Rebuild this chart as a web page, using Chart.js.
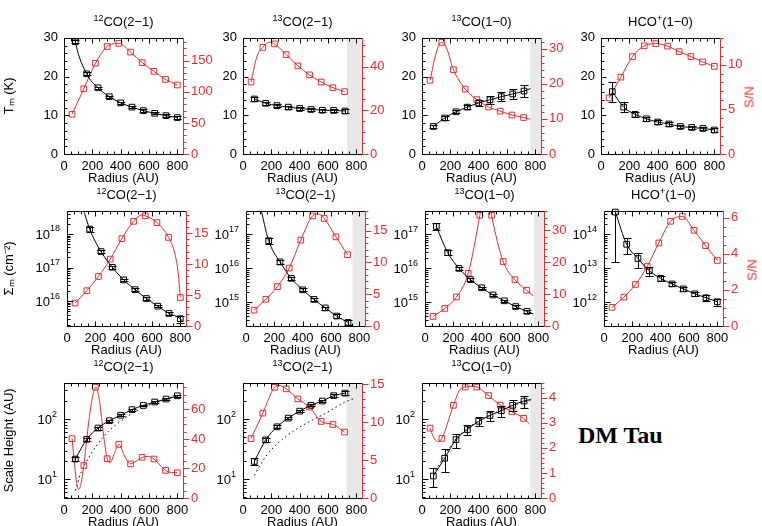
<!DOCTYPE html>
<html>
<head>
<meta charset="utf-8">
<script src="https://cdn.jsdelivr.net/npm/chart.js@4.4.1/dist/chart.umd.min.js"></script>
<style>
  body { margin: 0; background: #fff; width: 762px; height: 526px; position: relative; overflow: hidden;
         font-family: "Liberation Sans", Arial, sans-serif; }
  canvas { position: absolute; }
  .ttl { position: absolute; width: 160px; text-align: center; font-size: 13px; line-height: 16px; color: #000; }
  .ttl sup { font-size: 9px; vertical-align: 5px; line-height: 0; }
  .sn { position: absolute; font-size: 13px; color: rgb(232,44,44); transform: translate(-50%, -50%) rotate(-90deg); white-space: nowrap; }
  .dm { position: absolute; left: 578px; top: 422px; font: bold 24px "Liberation Serif", "Times New Roman", serif; }
</style>
</head>
<body>
<div class="dm">DM Tau</div>
<script>
// radii of the annuli (AU)
const radiusBlack = [80, 160, 240, 320, 400, 480, 560, 640, 720, 800];
const radiusRed = [57, 140, 222, 305, 387, 470, 552, 635, 717, 800];

// row 1 : temperature Tm (K)
const tm12co21 = [29.0, 20.7, 17.1, 14.8, 13.2, 12.1, 11.2, 10.5, 9.9, 9.4];
const tm12co21Err = [0.4, 0.4, 0.3, 0.3, 0.3, 0.3, 0.3, 0.3, 0.3, 0.3];
const sn12co21Tm = [64, 105, 146, 173, 178, 164, 147, 133, 120, 111];

const tm13co21 = [14.2, 13.1, 12.5, 12.1, 11.75, 11.5, 11.3, 11.25, 11.1];
const tm13co21Err = [0.4, 0.4, 0.4, 0.4, 0.4, 0.4, 0.4, 0.4, 0.4];
const sn13co21Tm = [[57, 33], [100, 45], [140, 48.9], [190, 51.3], [222, 50.5], [305, 45.6], [387, 40.4], [470, 36.3], [552, 33.0], [635, 30.4], [717, 28.6]];

const tm13co10 = [7.1, 9.3, 10.9, 12.1, 13.2, 14.0, 14.8, 15.5, 16.25];
const tm13co10Err = [0.4, 0.4, 0.4, 0.6, 0.8, 1.0, 1.2, 1.4, 1.5];
const sn13co10Tm = [[57, 21], [100, 28.8], [135, 31.8], [170, 30.5], [222, 24], [305, 18.5], [387, 15.5], [470, 13.4], [552, 12.2], [635, 11.1], [717, 10.4], [765, 9.9]];

const tmHco = [16.1, 12.1, 10.25, 9.1, 8.25, 7.75, 7.1, 6.85, 6.6, 6.2];
const tmHcoErr = [2.6, 1.3, 0.7, 0.5, 0.4, 0.4, 0.4, 0.4, 0.4, 0.4];
const snHcoTm = [6.27, 8.6, 10.9, 12.1, 12.35, 12.07, 11.45, 10.9, 10.3, 9.8];

// row 2 : surface density (cm^-2)
const sig12co21 = [1.4e18, 3.0e17, 1.02e17, 4.3e16, 2.2e16, 1.2e16, 7.1e15, 4.3e15, 3.0e15];
const sig12co21Err = [2.2e17, 3.5e16, 1.0e16, 4e15, 2e15, 1e15, 6e14, 4e14, 7e14];
const sn12co21Sig = [[57, 3.7], [140, 5.7], [222, 8.0], [305, 10.8], [387, 14.1], [470, 16.9], [530, 17.9], [552, 17.8], [635, 16.7], [717, 14.3], [760, 11.8], [785, 8.5], [800, 4.6]];

const sig13co21 = [6.5e16, 1.55e16, 5.1e15, 2.35e15, 1.23e15, 6.9e14, 4.0e14, 2.6e14];
const sig13co21Err = [1.2e16, 2e15, 6e14, 2.5e14, 1.2e14, 7e13, 5e13, 4e13];
const sn13co21Sig = [[57, 2.5], [140, 4.2], [222, 6.2], [305, 9.1], [387, 13.5], [470, 17.3], [510, 17.6], [552, 16.9], [635, 14.0], [717, 11.2]];

const sig13co10 = [1.7e17, 2.9e16, 1.0e16, 4.7e15, 2.7e15, 1.66e15, 1.12e15, 7.6e14, 5.5e14];
const sig13co10Err = [4e16, 5e15, 1.2e15, 4e14, 2e14, 1.2e14, 8e13, 6e13, 5e13];
const sn13co10Sig = [[57, 3.0], [140, 5.5], [222, 9.1], [305, 16.5], [387, 34.7], [428, 46], [470, 34.7], [552, 20.2], [635, 14.5], [717, 11.2], [765, 9.4]];

const sigHco = [4.5e14, 5.1e13, 1.95e13, 8.5e12, 5.1e12, 3.5e12, 2.5e12, 1.8e12, 1.38e12, 1.05e12];
const sigHcoErr = [4.35e14, 2.5e13, 9e12, 2.7e12, 8e11, 4e11, 3e11, 2.5e11, 2.5e11, 2.5e11];
const snHcoSig = [1.03, 1.6, 2.3, 3.3, 4.6, 5.8, 6.07, 5.3, 4.45, 3.63];

// row 3 : scale height (AU), dotted = model
const h12co21 = [21.6, 46, 71, 94, 116, 144, 169, 193, 216, 245];
const h12co21Err = [1.5, 3, 4, 4, 5, 6, 6, 7, 7, 8];
const model12co21 = [[80, 6.5], [120, 13], [160, 20], [240, 39], [320, 65], [400, 92], [480, 124], [560, 156], [640, 186], [720, 210], [800, 245]];
const sn12co21H = [40.2, 22, 75, 26.6, 36.3, 23.1, 27.5, 26.4, 18.7, 17.1];
const sn12co21HCurve = [[57, 40.2], [75, 22], [90, 10], [104, 5.7], [120, 10], [140, 22], [170, 48], [200, 68], [225, 75], [250, 66], [280, 42], [305, 26.6], [325, 23.8], [355, 30], [387, 36.3], [430, 28], [470, 23.1], [510, 25], [552, 27.5], [595, 28.2], [635, 26.4], [680, 22], [717, 18.7], [760, 17.2], [800, 17.1]];

const h13co21 = [19.7, 45, 74.5, 104, 136, 170, 200, 246, 271];
const h13co21Err = [2.5, 3, 4, 5, 6, 7, 8, 12, 18];
const model13co21 = [[80, 11.6], [160, 23.7], [240, 38.7], [320, 55], [400, 73.5], [480, 94], [560, 117], [640, 150], [720, 192], [790, 223]];
const sn13co21H = [[57, 7.84], [140, 11.2], [222, 14.6], [255, 14.85], [305, 14.4], [387, 13.07], [470, 12.0], [552, 10.1], [635, 9.7], [717, 8.7]];

const h13co10 = [11.3, 22.3, 45.5, 67, 92, 115, 138, 170, 200];
const h13co10Err = [4, 9, 12, 12, 15, 22, 28, 35, 45];
const model13co10 = [[80, 12], [160, 25], [240, 47], [320, 70], [400, 93], [480, 117], [560, 142], [640, 168], [720, 193], [770, 210]];
const sn13co10H = [[57, 2.79], [80, 2.45], [110, 2.25], [140, 2.38], [222, 3.70], [270, 4.35], [305, 4.43], [345, 4.46], [387, 4.43], [470, 4.09], [552, 3.71], [635, 3.44], [717, 3.18], [760, 2.95]];

const RED = 'rgb(232,44,44)';
const colLeft = [64, 243, 422, 601];
const rowTop = [34, 207, 379];
const rowShift = [0, 3, 0];
const rowH = [120, 119, 119];
const PW = 119;

Chart.defaults.font.family = '"Liberation Sans", Arial, sans-serif';
Chart.defaults.font.size = 13;

function pairs(list) { return list.map(p => ({ x: p[0], y: p[1] })); }
function zip(xs, ys) { return ys.map((y, i) => ({ x: xs[i], y: y })); }
const n9 = radiusBlack.slice(0, 9), r9 = radiusRed.slice(0, 9);

const panels = [
  { row: 0, col: 0, title: '<sup>12</sup>CO(2−1)', yTitle: 'Tₘ (K)',
    left: { min: 0, max: 30, ticks: [0, 10, 20, 30], minor: 2 }, right: { max: 187, ticks: [0, 50, 100, 150], minor: 10 },
    bx: radiusBlack, by: tm12co21, be: tm12co21Err, lead: [[68, 32]], red: zip(radiusRed, sn12co21Tm) },
  { row: 0, col: 1, title: '<sup>13</sup>CO(2−1)', gray: 735,
    left: { min: 0, max: 30, ticks: [0, 10, 20, 30], minor: 2 }, right: { max: 53.3, ticks: [0, 20, 40], minor: 5 },
    bx: n9, by: tm13co21, be: tm13co21Err, redPts: zip(r9, sn13co21Tm.filter((p, i) => i !== 1 && i !== 3).map(p => p[1])), red: pairs(sn13co21Tm) },
  { row: 0, col: 2, title: '<sup>13</sup>CO(1−0)', gray: 765,
    left: { min: 0, max: 30, ticks: [0, 10, 20, 30], minor: 2 }, right: { max: 33.1, ticks: [0, 10, 20, 30], minor: 2 },
    bx: n9, by: tm13co10, be: tm13co10Err, tail: [[765, 16.9]],
    redPts: zip(r9, sn13co10Tm.filter((p, i) => [0, 2, 4, 5, 6, 7, 8, 9, 10].includes(i)).map(p => p[1])), red: pairs(sn13co10Tm) },
  { row: 0, col: 3, title: 'HCO<sup>+</sup>(1−0)', sn: true,
    left: { min: 0, max: 30, ticks: [0, 10, 20, 30], minor: 2 }, right: { max: 13, ticks: [0, 5, 10], minor: 1 },
    bx: radiusBlack, by: tmHco, be: tmHcoErr, red: zip(radiusRed, snHcoTm) },

  { row: 1, col: 0, title: '<sup>12</sup>CO(2−1)', yTitle: 'Σₘ (cm⁻²)',
    left: { log: true, min: 1.82e15, max: 4.9e18 }, right: { max: 18.6, ticks: [0, 5, 10, 15], minor: 1 },
    bx: radiusBlack.slice(1), by: sig12co21, be: sig12co21Err, lead: [[112, 6e18]], tail: [[815, 2.5e15]],
    redPts: zip(radiusRed, sn12co21Sig.filter((p, i) => [0, 1, 2, 3, 4, 5, 7, 8, 9, 12].includes(i)).map(p => p[1])), red: pairs(sn12co21Sig) },
  { row: 1, col: 1, title: '<sup>13</sup>CO(2−1)', gray: 752,
    left: { log: true, min: 2.04e14, max: 4.9e17 }, right: { max: 18.1, ticks: [0, 5, 10, 15], minor: 1 },
    bx: radiusBlack.slice(1, 9), by: sig13co21, be: sig13co21Err, lead: [[100, 7e17]],
    redPts: zip(r9, sn13co21Sig.filter((p, i) => i !== 6).map(p => p[1])), red: pairs(sn13co21Sig) },
  { row: 1, col: 2, title: '<sup>13</sup>CO(1−0)', gray: 770,
    left: { log: true, min: 2.04e14, max: 4.9e17 }, right: { max: 36.1, ticks: [0, 10, 20, 30], minor: 2 },
    bx: n9, by: sig13co10, be: sig13co10Err, tail: [[765, 4.6e14]],
    redPts: zip(r9, sn13co10Sig.filter((p, i) => i !== 5 && i !== 10).map(p => p[1])), red: pairs(sn13co10Sig) },
  { row: 1, col: 3, title: 'HCO<sup>+</sup>(1−0)', sn: true,
    left: { log: true, min: 2.04e11, max: 4.9e14 }, right: { max: 6.38, ticks: [0, 2, 4, 6], minor: 0.5 },
    bx: radiusBlack, by: sigHco, be: sigHcoErr, red: zip(radiusRed, snHcoSig) },

  { row: 2, col: 0, title: '<sup>12</sup>CO(2−1)', yTitle: 'Scale Height (AU)',
    left: { log: true, min: 4.85, max: 403 }, right: { max: 78, ticks: [0, 20, 40, 60], minor: 5 },
    bx: radiusBlack, by: h12co21, be: h12co21Err, model: model12co21,
    redPts: zip(radiusRed, sn12co21H), red: pairs(sn12co21HCurve) },
  { row: 2, col: 1, title: '<sup>13</sup>CO(2−1)', gray: 730,
    left: { log: true, min: 4.85, max: 403 }, right: { max: 15.2, ticks: [0, 5, 10, 15], minor: 1 },
    bx: n9, by: h13co21, be: h13co21Err, model: model13co21,
    redPts: zip(r9, sn13co21H.filter((p, i) => i !== 3).map(p => p[1])), red: pairs(sn13co21H) },
  { row: 2, col: 2, title: '<sup>13</sup>CO(1−0)', gray: 765,
    left: { log: true, min: 4.85, max: 403 }, right: { max: 4.6, ticks: [0, 1, 2, 3, 4], minor: 0.2 },
    bx: n9, by: h13co10, be: h13co10Err, tail: [[770, 212]], model: model13co10,
    redPts: zip(r9, sn13co10H.filter((p, i) => [0, 3, 4, 6, 8, 9, 10, 11, 12].includes(i)).map(p => p[1])), red: pairs(sn13co10H) }
];

function leftTicks(l) {
  if (!l.log) return l.ticks;
  const out = [];
  for (let e = Math.ceil(Math.log10(l.min)); Math.pow(10, e) <= l.max; e++) out.push(Math.pow(10, e));
  return out;
}

function isMajor(v, list) { return list.some(t => Math.abs(t - v) < 1e-6); }

function framePlugin(p) {
  return {
    id: 'frame',
    beforeDatasetsDraw(chart) {
      if (!p.gray) return;
      const a = chart.chartArea, ctx = chart.ctx;
      const gx = chart.scales.x.getPixelForValue(p.gray);
      ctx.save();
      ctx.fillStyle = '#e8e8e8';
      ctx.fillRect(gx, a.top, a.right - gx, a.bottom - a.top);
      ctx.restore();
    },
    afterDatasetsDraw(chart) {
      // error bars on the black points
      const ctx = chart.ctx, a = chart.chartArea, xs = chart.scales.x, ys = chart.scales.y;
      ctx.save();
      ctx.beginPath(); ctx.rect(a.left, a.top, a.right - a.left, a.bottom - a.top); ctx.clip();
      ctx.strokeStyle = '#000'; ctx.lineWidth = 1;
      p.bx.forEach((xv, i) => {
        const yv = p.by[i], e = p.be[i];
        const x = Math.round(xs.getPixelForValue(xv)) + 0.5;
        const y1 = Math.round(ys.getPixelForValue(yv + e)) + 0.5;
        const y2 = Math.round(ys.getPixelForValue(Math.max(yv - e, ys.min * 0.01))) + 0.5;
        ctx.beginPath();
        ctx.moveTo(x, y1); ctx.lineTo(x, y2);
        ctx.moveTo(x - 4, y1); ctx.lineTo(x + 4, y1);
        ctx.moveTo(x - 4, y2); ctx.lineTo(x + 4, y2);
        ctx.stroke();
      });
      ctx.restore();
    },
    afterDraw(chart) {
      const ctx = chart.ctx, a = chart.chartArea, xs = chart.scales.x, ys = chart.scales.y, y2 = chart.scales.y2;
      const L = Math.round(a.left) + 0.5, R = Math.round(a.right) + 0.5, T = Math.round(a.top) + 0.5, B = Math.round(a.bottom) + 0.5;
      ctx.save();
      ctx.lineWidth = 1;
      ctx.strokeStyle = '#000';
      ctx.beginPath();
      ctx.moveTo(R, T); ctx.lineTo(L, T); ctx.lineTo(L, B); ctx.lineTo(R, B);
      // x ticks, inward on bottom and top
      for (let v = 0; v <= 840; v += 50) {
        const x = Math.round(xs.getPixelForValue(v)) + 0.5, len = v % 200 === 0 ? 5 : 3;
        ctx.moveTo(x, B); ctx.lineTo(x, B - len);
        ctx.moveTo(x, T); ctx.lineTo(x, T + len);
      }
      // left ticks, inward
      const l = p.left;
      if (l.log) {
        for (let e = Math.floor(Math.log10(l.min)); e <= Math.ceil(Math.log10(l.max)); e++) {
          for (let k = 1; k <= 9; k++) {
            const v = k * Math.pow(10, e);
            if (v < l.min || v > l.max) continue;
            const y = Math.round(ys.getPixelForValue(v)) + 0.5;
            ctx.moveTo(L, y); ctx.lineTo(L + (k === 1 ? 6 : 3), y);
          }
        }
      } else {
        for (let v = l.min; v <= l.max + 1e-9; v += l.minor) {
          const y = Math.round(ys.getPixelForValue(v)) + 0.5;
          ctx.moveTo(L, y); ctx.lineTo(L + (isMajor(v, l.ticks) ? 5 : 3), y);
        }
      }
      ctx.stroke();
      // red right axis, ticks outward
      const r = p.right;
      ctx.strokeStyle = RED;
      ctx.beginPath();
      ctx.moveTo(R, T); ctx.lineTo(R, B);
      for (let i = 0; i * r.minor <= r.max + 1e-9; i++) {
        const v = i * r.minor;
        const y = Math.round(y2.getPixelForValue(v)) + 0.5;
        ctx.moveTo(R, y); ctx.lineTo(R + (isMajor(v, r.ticks) ? 6 : 3), y);
      }
      ctx.stroke();
      // log labels 10^n
      if (l.log) {
        ctx.fillStyle = '#000';
        ctx.textBaseline = 'middle';
        ctx.textAlign = 'left';
        leftTicks(l).forEach(v => {
          const ex = String(Math.round(Math.log10(v)));
          const y = ys.getPixelForValue(v);
          ctx.font = '9px "Liberation Sans", Arial, sans-serif';
          const w2 = ctx.measureText(ex).width;
          ctx.font = '13px "Liberation Sans", Arial, sans-serif';
          const w1 = ctx.measureText('10').width;
          const xr = a.left - 7;
          ctx.fillText('10', xr - w2 - w1, y + 1);
          ctx.font = '9px "Liberation Sans", Arial, sans-serif';
          ctx.fillText(ex, xr - w2, y - 5);
        });
      }
      ctx.restore();
    }
  };
}

function makePanel(p) {
  const pl = colLeft[p.col] + rowShift[p.row], pt = rowTop[p.row], ph = rowH[p.row];
  const wl = p.col === 0 ? pl : 56, wr = 44, tp = 12, hb = 32;
  const cv = document.createElement('canvas');
  cv.width = wl + PW + wr;
  cv.height = tp + ph + hb;
  cv.style.left = (pl - wl) + 'px';
  cv.style.top = (pt - tp) + 'px';
  document.body.appendChild(cv);

  const ttl = document.createElement('div');
  ttl.className = 'ttl';
  ttl.innerHTML = p.title;
  ttl.style.left = (pl + PW / 2 - 80) + 'px';
  ttl.style.top = (pt - 20) + 'px';
  document.body.appendChild(ttl);

  if (p.sn) {
    const s = document.createElement('div');
    s.className = 'sn';
    s.textContent = 'S/N';
    s.style.left = (pl + PW + 29) + 'px';
    s.style.top = (pt + ph / 2 + 3) + 'px';
    document.body.appendChild(s);
  }

  const black = zip(p.bx, p.by);
  const blackLine = pairs(p.lead || []).concat(black, pairs(p.tail || []));
  const redPts = p.redPts || p.red;

  const datasets = [
    { data: black, yAxisID: 'y', showLine: false, pointStyle: 'rect', pointRadius: 4, pointBorderWidth: 1,
      pointBorderColor: '#000', pointBackgroundColor: 'rgba(0,0,0,0)', clip: 6 },
    { data: blackLine, yAxisID: 'y', showLine: true, pointRadius: 0, borderColor: '#000', borderWidth: 1,
      cubicInterpolationMode: 'monotone', clip: 0 },
    { data: redPts, yAxisID: 'y2', showLine: false, pointStyle: 'rect', pointRadius: 4, pointBorderWidth: 1,
      pointBorderColor: RED, pointBackgroundColor: 'rgba(0,0,0,0)', clip: 6 },
    { data: p.red, yAxisID: 'y2', showLine: true, pointRadius: 0, borderColor: RED, borderWidth: 1,
      cubicInterpolationMode: 'monotone', clip: 0 }
  ];
  if (p.model) {
    datasets.push({ data: pairs(p.model), yAxisID: 'y', showLine: true, pointRadius: 0, borderColor: '#000',
      borderWidth: 1, borderDash: [1.5, 3], cubicInterpolationMode: 'monotone', clip: 0 });
  }

  new Chart(cv, {
    type: 'scatter',
    data: { datasets: datasets },
    options: {
      responsive: false, animation: false, devicePixelRatio: 1, events: [],
      layout: { padding: { top: tp, left: 0, right: 0, bottom: 0 } },
      plugins: { legend: { display: false }, tooltip: { enabled: false } },
      scales: {
        x: {
          type: 'linear', min: 0, max: 840, position: 'bottom',
          grid: { display: false, drawTicks: false }, border: { display: false },
          afterBuildTicks: s => { s.ticks = [0, 200, 400, 600, 800].map(v => ({ value: v })); },
          ticks: { padding: 5, color: '#000', autoSkip: false, minRotation: 0, maxRotation: 0 },
          title: { display: true, text: 'Radius (AU)', color: '#000', padding: { top: 0, bottom: 0 } },
          afterFit: s => { s.height = hb; }
        },
        y: {
          type: p.left.log ? 'logarithmic' : 'linear', position: 'left',
          min: p.left.min, max: p.left.max,
          grid: { display: false, drawTicks: false }, border: { display: false },
          afterBuildTicks: s => { s.ticks = leftTicks(p.left).map(v => ({ value: v })); },
          ticks: { display: !p.left.log, padding: 6, color: '#000', autoSkip: false },
          title: { display: !!p.yTitle, text: p.yTitle || '', color: '#000', padding: { top: 2, bottom: 0 } },
          afterFit: s => { s.width = wl; }
        },
        y2: {
          type: 'linear', position: 'right', min: 0, max: p.right.max,
          grid: { display: false, drawTicks: false }, border: { display: false },
          afterBuildTicks: s => { s.ticks = p.right.ticks.map(v => ({ value: v })); },
          ticks: { padding: 8, color: RED, autoSkip: false },
          afterFit: s => { s.width = wr; }
        }
      }
    },
    plugins: [framePlugin(p)]
  });
}

panels.forEach(makePanel);
</script>
</body>
</html>
